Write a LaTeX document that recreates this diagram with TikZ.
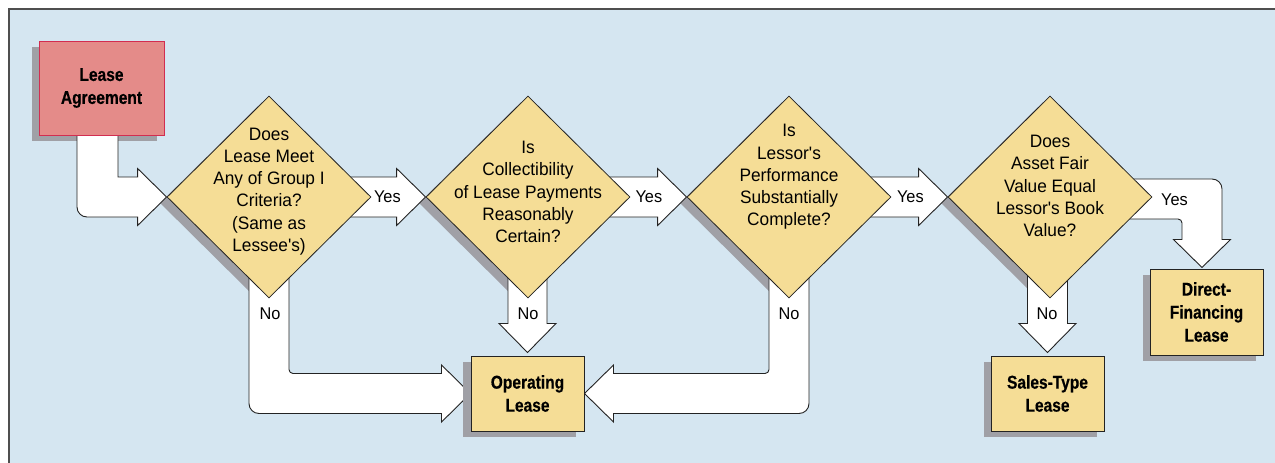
\documentclass[tikz,border=0pt]{standalone}
\usepackage{fontspec}
\setmainfont{Liberation Sans}[Ligatures=TeXOff]
\newfontfamily\bcond{Liberation Sans}[FakeStretch=0.84,FakeBold=0.5,Ligatures=TeXOff]
\newfontfamily\qfont{Liberation Sans}[FakeStretch=0.96,Ligatures=TeXOff]
\usetikzlibrary{shapes.geometric,calc}
\pgfdeclarelayer{bg}
\pgfdeclarelayer{shlow}
\pgfdeclarelayer{arrows}
\pgfdeclarelayer{shhigh}
\pgfsetlayers{bg,shlow,arrows,shhigh,main}
\definecolor{panel}{RGB}{213,230,241}
\definecolor{diamy}{RGB}{245,221,150}
\definecolor{pinkf}{RGB}{228,139,137}
\definecolor{pinkd}{RGB}{210,45,80}
\definecolor{shad}{RGB}{160,160,166}
\definecolor{edge}{RGB}{35,35,35}
\tikzset{
  decision/.style={diamond, minimum width=204pt, minimum height=202pt, inner sep=0pt, fill=diamy, draw=edge, line width=0.8pt},
  decshadow/.style={diamond, minimum width=204pt, minimum height=202pt, inner sep=0pt, fill=shad},
  qtext/.style={align=center, inner sep=0pt, font=\qfont\fontsize{18}{22.3}\selectfont, text=black},
  result/.style={rectangle, inner sep=0pt, fill=diamy, draw=edge, line width=1pt, align=center, font=\bcond\bfseries\fontsize{18.5}{23}\selectfont},
  startbox/.style={result, fill=pinkf, draw=pinkd},
  boxshadow/.style={rectangle, inner sep=0pt, fill=shad},
  lbl/.style={inner sep=0pt, font=\qfont\fontsize{17}{20}\selectfont},
  blockarrow/.style={draw=edge, fill=white, line width=0.9pt, line join=miter},
}
\begin{document}
\begin{tikzpicture}[x=1pt,y=-1pt]
\useasboundingbox (0,0) rectangle (1275,463);
\begin{pgfonlayer}{bg}
  \fill[white] (0,0) rectangle (1275,463);
  \draw[fill=panel, draw=edge!80, line width=1.4pt] (9,9) rectangle (1295,483);
\end{pgfonlayer}

% main nodes
\node[startbox, minimum width=125pt, minimum height=94pt] (la) at (101.5,88) {Lease\\Agreement};
\node[decision] (d1) at (269,197) {};
\node[decision] (d2) at (528,197) {};
\node[decision] (d3) at (789,197) {};
\node[decision] (d4) at (1050,197) {};
\node[result, minimum width=113pt, minimum height=75pt] (op) at (527.5,393.5) {Operating\\Lease};
\node[result, minimum width=113pt, minimum height=75pt] (st) at (1047.5,393.5) {Sales-Type\\Lease};
\node[result, minimum width=113pt, minimum height=86pt] (df) at (1206.5,312) {Direct-\\Financing\\Lease};

\node[qtext] (q1) at ($(d1)+(0,-5.5)$) {Does\\Lease Meet\\Any of Group I\\Criteria?\\(Same as\\Lessee's)};
\node[qtext] (q2) at ($(d2)+(0,-5)$) {Is\\Collectibility\\of Lease Payments\\Reasonably\\Certain?};
\node[qtext] (q3) at ($(d3)+(0,-20)$) {Is\\Lessor's\\Performance\\Substantially\\Complete?};
\node[qtext] (q4) at ($(d4)+(0,-11)$) {Does\\Asset Fair\\Value Equal\\Lessor's Book\\Value?};

% shadows
\begin{pgfonlayer}{shlow}
  \node[boxshadow, minimum width=125pt, minimum height=94pt] (las) at ($(la)+(-7,6)$) {};
  \node[decshadow] (d1s) at ($(d1)+(-7,6)$) {};
  \node[decshadow] (d2s) at ($(d2)+(-7,6)$) {};
  \node[decshadow] (d3s) at ($(d3)+(-7,6)$) {};
  \node[decshadow] (d4s) at ($(d4)+(-7,6)$) {};
  \node[boxshadow, minimum width=113pt, minimum height=75pt] (sts) at ($(st)+(-7,6)$) {};
  \node[boxshadow, minimum width=113pt, minimum height=86pt] (dfs) at ($(df)+(-7,6)$) {};
\end{pgfonlayer}
\begin{pgfonlayer}{shhigh}
  \node[boxshadow, minimum width=113pt, minimum height=75pt] (ops) at ($(op)+(-8,6)$) {};
\end{pgfonlayer}

% block arrows
\begin{pgfonlayer}{arrows}
  % Lease Agreement -> d1
  \draw[blockarrow] let \p1=(la.center), \p2=(d1.west) in
    (\x1-24.5pt,\y1) [rounded corners=10pt] -- (\x1-24.5pt,\y2-20pt) [sharp corners]
    -- (\x2-29pt,\y2-20pt) -- (\x2-29pt,\y2-28.5pt) -- (\p2) -- (\x2-29pt,\y2+28.5pt)
    -- (\x2-29pt,\y2+20pt) -- (\x1+16.5pt,\y2+20pt) -- (\x1+16.5pt,\y1) -- cycle;
  % Yes arrows between decisions
  \draw[blockarrow] let \p1=(d1.center), \p2=(d2.west) in
    (\x1,\y2+20pt) -- (\x2-29pt,\y2+20pt) -- (\x2-29pt,\y2+28.5pt) -- (\p2)
    -- (\x2-29pt,\y2-28.5pt) -- (\x2-29pt,\y2-20pt) -- (\x1,\y2-20pt) -- cycle;
  \draw[blockarrow] let \p1=(d2.center), \p2=(d3.west) in
    (\x1,\y2+20pt) -- (\x2-29pt,\y2+20pt) -- (\x2-29pt,\y2+28.5pt) -- (\p2)
    -- (\x2-29pt,\y2-28.5pt) -- (\x2-29pt,\y2-20pt) -- (\x1,\y2-20pt) -- cycle;
  \draw[blockarrow] let \p1=(d3.center), \p2=(d4.west) in
    (\x1,\y2+20pt) -- (\x2-29pt,\y2+20pt) -- (\x2-29pt,\y2+28.5pt) -- (\p2)
    -- (\x2-29pt,\y2-28.5pt) -- (\x2-29pt,\y2-20pt) -- (\x1,\y2-20pt) -- cycle;
  % d1 No -> Operating Lease
  \draw[blockarrow] let \p1=(d1.center), \p3=(op.west) in
    (\x1-20pt,\y1) [rounded corners=10pt] -- (\x1-20pt,\y3-20pt) [sharp corners]
    -- (\x3-29pt,\y3-20pt) -- (\x3-29pt,\y3-28.5pt) -- (\p3) -- (\x3-29pt,\y3+28.5pt)
    -- (\x3-29pt,\y3+20pt) [rounded corners=4pt] -- (\x1+20pt,\y3+20pt) [sharp corners]
    -- (\x1+20pt,\y1) -- cycle;
  % d3 No -> Operating Lease
  \draw[blockarrow] let \p1=(d3.center), \p3=(op.east) in
    (\x1+20pt,\y1) [rounded corners=10pt] -- (\x1+20pt,\y3-20pt) [sharp corners]
    -- (\x3+29pt,\y3-20pt) -- (\x3+29pt,\y3-28.5pt) -- (\p3) -- (\x3+29pt,\y3+28.5pt)
    -- (\x3+29pt,\y3+20pt) [rounded corners=4pt] -- (\x1-20pt,\y3+20pt) [sharp corners]
    -- (\x1-20pt,\y1) -- cycle;
  % d2 No -> Operating Lease
  \draw[blockarrow] let \p1=(d2.center), \p2=($(op.north)+(0,-3)$) in
    (\x2-19.5pt,\y1) -- (\x2-19.5pt,\y2+29pt) -- (\x2-28.5pt,\y2+29pt) -- (\p2)
    -- (\x2+28.5pt,\y2+29pt) -- (\x2+19.5pt,\y2+29pt) -- (\x2+19.5pt,\y1) -- cycle;
  % d4 No -> Sales-Type Lease
  \draw[blockarrow] let \p1=(d4.center), \p2=($(st.north)+(0,-3)$) in
    (\x2-20pt,\y1) -- (\x2-20pt,\y2+29pt) -- (\x2-28.5pt,\y2+29pt) -- (\p2)
    -- (\x2+28.5pt,\y2+29pt) -- (\x2+20pt,\y2+29pt) -- (\x2+20pt,\y1) -- cycle;
  % d4 Yes -> Direct-Financing Lease
  \draw[blockarrow] let \p1=(d4.center), \p2=($(df.north)+(-4.5,-1)$) in
    (\x1,\y1+18pt) [rounded corners=10pt] -- (\x2+20pt,\y1+18pt) [sharp corners]
    -- (\x2+20pt,\y2+28pt) -- (\x2+28.5pt,\y2+28pt) -- (\p2) -- (\x2-28.5pt,\y2+28pt)
    -- (\x2-20pt,\y2+28pt) [rounded corners=4pt] -- (\x2-20pt,\y1-22pt) [sharp corners]
    -- (\x1,\y1-22pt) -- cycle;
\end{pgfonlayer}

% labels
\node[lbl] (y1) at ($(d1.east)+(16,0)$) {Yes};
\node[lbl] (y2) at ($(d2.east)+(18.5,0)$) {Yes};
\node[lbl] (y3) at ($(d3.east)+(19,0)$) {Yes};
\node[lbl] (y4) at ($(d4.east)+(22,3)$) {Yes};
\node[lbl] (n1) at ($(d1.south)+(1,15)$) {No};
\node[lbl] (n2) at ($(d2.south)+(0,15)$) {No};
\node[lbl] (n3) at ($(d3.south)+(0,15)$) {No};
\node[lbl] (n4) at ($(d4.south)+(-3,15)$) {No};
\end{tikzpicture}
\end{document}
